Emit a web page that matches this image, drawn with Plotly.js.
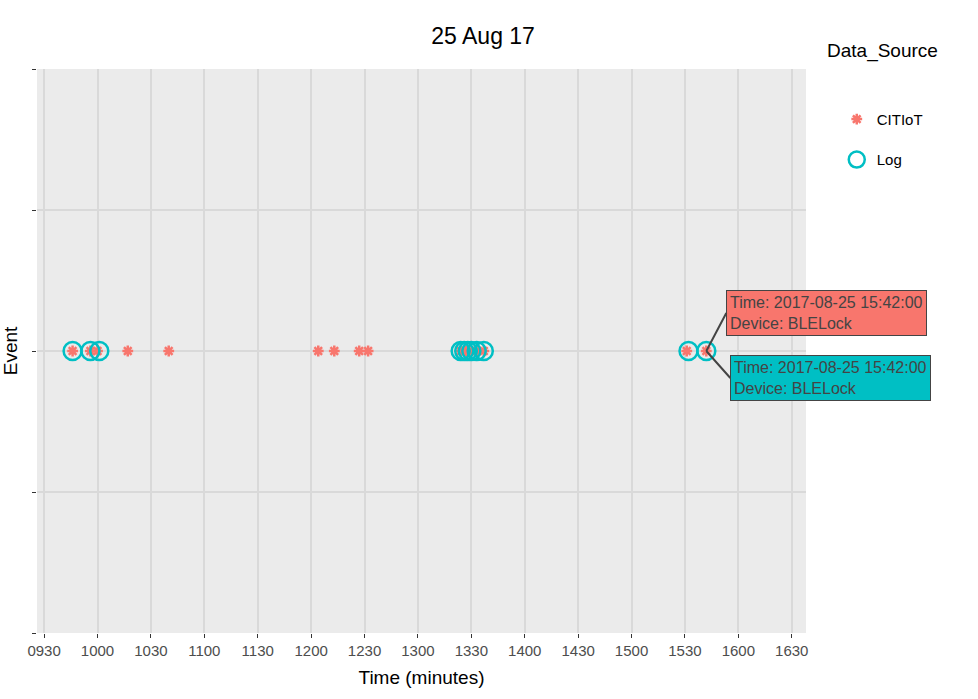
<!DOCTYPE html>
<html><head><meta charset="utf-8">
<script src="https://cdn.plot.ly/plotly-3.0.1.min.js"></script>
<style>body{margin:0}</style></head>
<body><div id="chart" style="width:978px;height:699px"></div>
<script>
// times, 25 Aug 2017
var citiotTimes = ["09:46","09:56","10:00","10:17","10:40","12:04","12:13","12:27","12:32",
  "13:24","13:27","13:29","13:33","13:37","15:31","15:42"];
var logTimes = ["09:46","09:56","10:01","13:24","13:26","13:28","13:30","13:33","13:37","15:32","15:42"];
var tickLabels = ["0930","1000","1030","1100","1130","1200","1230","1300","1330","1400",
  "1430","1500","1530","1600","1630"];
var day = "2017-08-25 ";

function stamp(t) { return day + t + ":00"; }
function ones(a) { return a.map(function () { return 1; }); }

var tickVals = tickLabels.map(function (l) { return stamp(l.slice(0, 2) + ":" + l.slice(2)); });

var data = [
  {x: citiotTimes.map(stamp), y: ones(citiotTimes), type: "scatter", mode: "markers", name: "CITIoT",
   legendgroup: "a",
   marker: {symbol: "asterisk-open", size: 9, color: "#F8766D", line: {color: "#F8766D", width: 2.5}}},
  {x: logTimes.map(stamp), y: ones(logTimes), type: "scatter", mode: "markers", name: "Log",
   legendgroup: "b",
   marker: {symbol: "circle-open", size: 18, color: "#00BFC4", line: {color: "#00BFC4", width: 2.5}}}
];

var layout = {
  title: {text: "25 Aug 17", font: {size: 23, color: "#000"}, x: 0.494, xanchor: "center", y: 0.96},
  paper_bgcolor: "#fff", plot_bgcolor: "#EBEBEB",
  font: {family: "Liberation Sans, Arial, sans-serif", color: "#000"},
  margin: {l: 37, r: 172, t: 69, b: 66},
  xaxis: {type: "date", range: [stamp("09:26"), stamp("16:38")], tickvals: tickVals, ticktext: tickLabels,
    gridcolor: "#D9D9D9", gridwidth: 1.5, ticks: "outside", ticklen: 4, tickcolor: "#333",
    tickfont: {size: 15, color: "#4d4d4d"}, zeroline: false,
    title: {text: "Time (minutes)", font: {size: 19}, standoff: 12}},
  yaxis: {range: [0.5, 1.5], tickvals: [0.5, 0.75, 1, 1.25, 1.5], ticktext: ["", "", "", "", ""],
    gridcolor: "#D9D9D9", gridwidth: 1.5, ticks: "outside", ticklen: 4, tickcolor: "#333", zeroline: false,
    title: {text: "Event", font: {size: 19}, standoff: 6}},
  legend: {x: 1.04, y: 0.94, xanchor: "left", font: {size: 15}, bgcolor: "rgba(0,0,0,0)",
    title: {text: ""}, itemsizing: "trace", tracegroupgap: 18},
  annotations: [
    {text: "Data_Source", xref: "paper", yref: "paper", x: 1.025, y: 1.055, xanchor: "left",
     showarrow: false, font: {size: 19}},
    {x: stamp("15:42"), y: 1, xref: "x", yref: "y", ax: 20, ay: -38, xanchor: "left", align: "left",
     text: "Time: 2017-08-25 15:42:00<br>Device: BLELock", bgcolor: "#F8766D", bordercolor: "#444",
     font: {size: 16, color: "#444"}, showarrow: true, arrowcolor: "#444", arrowhead: 0, borderpad: 3},
    {x: stamp("15:42"), y: 1, xref: "x", yref: "y", ax: 24, ay: 27, xanchor: "left", align: "left",
     text: "Time: 2017-08-25 15:42:00<br>Device: BLELock", bgcolor: "#00BFC4", bordercolor: "#444",
     font: {size: 16, color: "#444"}, showarrow: true, arrowcolor: "#444", arrowhead: 0, borderpad: 3}
  ]
};

Plotly.newPlot("chart", data, layout, {displayModeBar: false});
</script></body></html>
